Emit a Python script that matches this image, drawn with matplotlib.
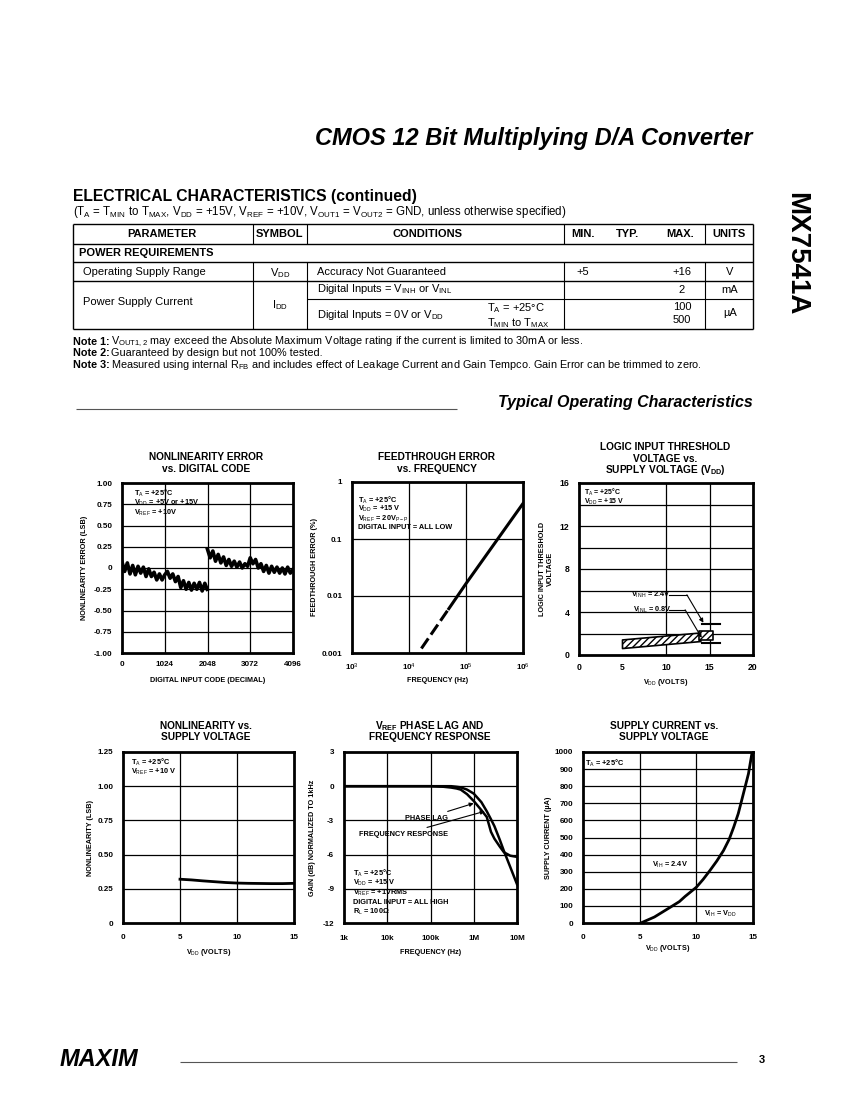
import matplotlib
matplotlib.use('Agg')
import matplotlib.pyplot as plt

W, H = 850, 1100

plt.rcParams['font.family'] = ['Liberation Sans', 'DejaVu Sans']
plt.rcParams['mathtext.fontset'] = 'custom'
plt.rcParams['mathtext.rm'] = 'Liberation Sans'
plt.rcParams['mathtext.it'] = 'Liberation Sans:italic'
plt.rcParams['mathtext.bf'] = 'Liberation Sans:bold'
plt.rcParams['hatch.linewidth'] = 1.0

NARROW = ['Liberation Sans Narrow', 'Liberation Sans', 'DejaVu Sans']

# ---------------- data ----------------
# nonlinearity error vs digital code (two halves)
code_lo = [0, 64, 128, 192, 256, 320, 384, 448, 512, 576, 640, 704, 768, 832, 896, 960,
           1024, 1088, 1152, 1216, 1280, 1344, 1408, 1472, 1536, 1600, 1664, 1728, 1792,
           1856, 1920, 1984, 2040]
nle_lo = [0.07, -0.04, 0.06, -0.07, 0.03, -0.08, 0.02, -0.06, 0.01, -0.10, -0.01, -0.10,
          -0.05, -0.14, -0.07, -0.14, -0.08, -0.04, -0.12, -0.07, -0.16, -0.10, -0.23,
          -0.15, -0.25, -0.17, -0.26, -0.18, -0.25, -0.17, -0.27, -0.18, -0.25]
code_hi = [2048, 2112, 2176, 2240, 2304, 2368, 2432, 2496, 2560, 2624, 2688, 2752, 2816,
           2880, 2944, 3008, 3072, 3136, 3200, 3264, 3328, 3392, 3456, 3520, 3584, 3648,
           3712, 3776, 3840, 3904, 3968, 4032, 4096]
nle_hi = [0.22, 0.12, 0.20, 0.08, 0.16, 0.06, 0.13, 0.03, 0.10, 0.02, 0.08, 0.01, 0.07,
          0.00, 0.05, 0.02, 0.12, 0.05, 0.10, 0.00, 0.05, -0.04, 0.03, -0.06, 0.02, -0.05,
          0.01, -0.06, 0.00, -0.07, 0.01, -0.06, -0.02]

# feedthrough error vs frequency
ft_freq_dash = [1.65e4, 5e4]
ft_err_dash = [0.0012, 0.006]
ft_freq = [5e4, 1e5, 1e6]
ft_err = [0.006, 0.0165, 0.42]

# logic input threshold vs supply voltage
band_vdd = [5, 14]
band_lo = [0.6, 1.25]
band_hi = [1.4, 2.05]
box_vdd = [13.8, 15.4]
box_lo = [1.4, 1.4]
box_hi = [2.2, 2.2]
vinh_vdd = [14.1, 16.2]
vinh_lvl = [2.85, 2.85]
vinl_vdd = [14.1, 16.2]
vinl_lvl = [1.08, 1.08]

# nonlinearity vs supply voltage
nl_vdd = [5, 6, 7, 8, 9, 10, 11, 12, 13, 14, 15]
nl_lsb = [0.32, 0.315, 0.308, 0.302, 0.296, 0.292, 0.290, 0.289, 0.288, 0.288, 0.290]

# VREF phase lag and frequency response
fr_freq = [1e3, 1e4, 1e5, 2e5, 3e5, 4e5, 5e5, 7e5, 1e6, 1.5e6, 2e6, 2.5e6, 3e6, 4e6,
           5e6, 7e6, 1e7]
freq_resp = [0, 0, 0, 0, 0, -0.05, -0.1, -0.3, -0.65, -1.4, -2.2, -2.9, -3.5, -4.7,
             -5.7, -7.1, -8.6]
phase_lag = [0, 0, 0, -0.05, -0.12, -0.2, -0.3, -0.7, -1.3, -2.1, -2.7, -4.0, -4.6,
             -5.3, -5.8, -6.1, -6.2]

# supply current vs supply voltage
sc_vdd = [5.1, 6.3, 7.7, 8.5, 9.0, 10.0, 10.6, 11.2, 11.8, 12.4, 12.9, 13.3, 13.7,
          14.0, 14.3, 14.6, 14.9]
sc_ua = [0, 35, 92, 125, 155, 209, 255, 307, 362, 424, 490, 561, 640, 717, 795, 873, 990]

# table contents
header = ['PARAMETER', 'SYMBOL', 'CONDITIONS', 'MIN.', 'TYP.', 'MAX.', 'UNITS']
header_x = [162, 279, 428, 583, 628, 680, 729]

# ---------------- figure ----------------
fig = plt.figure(figsize=(8.5, 11), dpi=100)
bg = fig.add_axes([0, 0, 1, 1])
bg.set_xlim(0, W)
bg.set_ylim(H, 0)
bg.axis('off')


def txt(x, y, s, **kw):
    kw.setdefault('va', 'center')
    bg.text(x, y, s, **kw)


def hline(x0, x1, y, lw=0.8, color='black'):
    bg.plot([x0, x1], [y, y], color=color, lw=lw, solid_capstyle='butt')


def vline(x, y0, y1, lw=0.8):
    bg.plot([x, x], [y0, y1], color='black', lw=lw, solid_capstyle='butt')


# page title
txt(753, 138, 'CMOS 12 Bit Multiplying D/A Converter', ha='right', fontsize=17,
    weight='bold', style='italic')
txt(796, 254, 'MX7541A', ha='center', fontsize=20, weight='bold', rotation=270)

txt(73, 197, 'ELECTRICAL CHARACTERISTICS (continued)', fontsize=11.3, weight='bold')
txt(73, 212, r'(T$_{\rm A}$ = T$_{\rm MIN}$ to T$_{\rm MAX}$, V$_{\rm DD}$ = +15V, '
    r'V$_{\rm REF}$ = +10V, V$_{\rm OUT1}$ = V$_{\rm OUT2}$ = GND, unless otherwise specified)',
    fontsize=8.3)

# table grid
for y in [224, 244, 262, 281, 329]:
    hline(73, 753, y, lw=1.0)
hline(307, 753, 299)
vline(73, 224, 329, lw=1.0)
vline(753, 224, 329, lw=1.0)
for x in [253, 307, 564, 705]:
    vline(x, 224, 244)
    vline(x, 262, 329)

for s, x in zip(header, header_x):
    txt(x, 234, s, ha='center', fontsize=8, weight='bold')
txt(79, 253, 'POWER REQUIREMENTS', fontsize=8, weight='bold')
txt(83, 272, 'Operating Supply Range', fontsize=8)
txt(83, 302, 'Power Supply Current', fontsize=8)
txt(280, 273, r'V$_{\rm DD}$', ha='center', fontsize=8)
txt(280, 305, r'I$_{\rm DD}$', ha='center', fontsize=8)
txt(317, 272, 'Accuracy Not Guaranteed', fontsize=8)
txt(317, 289, r'Digital Inputs = V$_{\rm INH}$ or V$_{\rm INL}$', fontsize=8)
txt(317, 315, r'Digital Inputs = 0V or V$_{\rm DD}$', fontsize=8)
txt(487, 308, r'T$_{\rm A}$ = +25°C', fontsize=8)
txt(487, 323, r'T$_{\rm MIN}$ to T$_{\rm MAX}$', fontsize=8)
txt(583, 272, '+5', ha='center', fontsize=8)
txt(682, 272, '+16', ha='center', fontsize=8)
txt(730, 272, 'V', ha='center', fontsize=8)
txt(682, 290, '2', ha='center', fontsize=8)
txt(730, 290, 'mA', ha='center', fontsize=8)
txt(682, 307, '100', ha='center', fontsize=8)
txt(682, 320, '500', ha='center', fontsize=8)
txt(730, 313, 'µA', ha='center', fontsize=8)

# notes
notes = [
    r'V$_{\rm OUT1,2}$ may exceed the Absolute Maximum Voltage rating if the current is limited to 30mA or less.',
    'Guaranteed by design but not 100% tested.',
    r'Measured using internal R$_{\rm FB}$ and includes effect of Leakage Current and Gain Tempco. Gain Error can be trimmed to zero.',
]
for i, n in enumerate(notes):
    y = 342 + i * 11.5
    txt(73, y, 'Note %d:' % (i + 1), fontsize=7.8, weight='bold')
    txt(111, y, n, fontsize=7.8)

# section heading
hline(76, 457, 409, lw=0.8, color='#555555')
txt(753, 402, 'Typical Operating Characteristics', ha='right', fontsize=11.5,
    weight='bold', style='italic')

# footer
txt(60, 1060, 'MAXIM', fontsize=17, weight='bold', style='italic')
hline(180, 737, 1062, lw=0.8, color='#555555')
txt(762, 1060, '3', ha='center', fontsize=8, weight='bold')


# ---------------- charts ----------------
def chart(l, t, r, b):
    ax = fig.add_axes([l / W, 1 - b / H, (r - l) / W, (b - t) / H])
    ax.set_facecolor('none')
    for sp in ax.spines.values():
        sp.set_linewidth(2.0)
        sp.set_zorder(5)
    ax.tick_params(length=0)
    ax.box = (l, t, r, b)
    return ax


def ticks(ax, xt, xl, yt, yl, xpad=6, ypad=7, size=5.8):
    ax.set_xticks(xt)
    ax.set_xticklabels(xl, family=NARROW, weight='bold', fontsize=size)
    ax.set_yticks(yt)
    ax.set_yticklabels(yl, family=NARROW, weight='bold', fontsize=size)
    ax.tick_params(axis='x', pad=xpad)
    ax.tick_params(axis='y', pad=ypad)
    ax.minorticks_off()


def grid(ax, xg, yg):
    for v in xg:
        ax.axvline(v, color='black', lw=0.9, zorder=1)
    for v in yg:
        ax.axhline(v, color='black', lw=0.9, zorder=1)


def labels(ax, xlab, xly, ylab, ylx, size=5.2):
    l, t, r, b = ax.box
    ax.set_xlabel(xlab, family=NARROW, weight='bold', fontsize=size, va='center')
    ax.xaxis.set_label_coords(0.5, (b - xly) / (b - t))
    ax.set_ylabel(ylab, family=NARROW, weight='bold', fontsize=size, va='center',
                  ha='center', multialignment='center')
    ax.yaxis.set_label_coords((ylx - l) / (r - l), 0.5)


def title(x, y, lines):
    for i, s in enumerate(lines):
        txt(x, y + i * 11.5, s, ha='center', fontsize=7.3, weight='bold')


def inner(ax, x, y, lines, step=10, size=5.3):
    for i, s in enumerate(lines):
        ax.text(x, y + i * step, s, transform=bg.transData, family=NARROW,
                weight='bold', fontsize=size, va='center')


arrow = dict(arrowstyle='-|>', color='black', lw=0.8, shrinkA=0, shrinkB=0,
             mutation_scale=6)
small = dict(family=NARROW, weight='bold', fontsize=5.3, va='center')

# 1: nonlinearity error vs digital code
ax1 = chart(122, 483, 293, 653)
ax1.set_xlim(0, 4096)
ax1.set_ylim(-1, 1)
grid(ax1, [1024, 2048, 3072], [-0.75, -0.5, -0.25, 0, 0.25, 0.5, 0.75])
ax1.plot(code_lo, nle_lo, color='black', lw=2.6, zorder=3)
ax1.plot(code_hi, nle_hi, color='black', lw=2.6, zorder=3)
ticks(ax1, [0, 1024, 2048, 3072, 4096], ['0', '1024', '2048', '3072', '4096'],
      [1, 0.75, 0.5, 0.25, 0, -0.25, -0.5, -0.75, -1],
      ['1.00', '0.75', '0.50', '0.25', '0', '-0.25', '-0.50', '-0.75', '-1.00'])
labels(ax1, 'DIGITAL INPUT CODE (DECIMAL)', 681, 'NONLINEARITY ERROR (LSB)', 85)
title(206, 457, ['NONLINEARITY ERROR', 'vs. DIGITAL CODE'])
inner(ax1, 134, 493, [r'T$_{\rm A}$ = +25°C', r'V$_{\rm DD}$ = +5V or +15V',
                      r'V$_{\rm REF}$ = +10V'])

# 2: feedthrough error vs frequency
ax2 = chart(352, 482, 523, 653)
ax2.set_xscale('log')
ax2.set_yscale('log')
ax2.set_xlim(1e3, 1e6)
ax2.set_ylim(1e-3, 1)
grid(ax2, [1e4, 1e5], [1e-2, 1e-1])
ax2.plot(ft_freq_dash, ft_err_dash, color='black', lw=2.2, ls=(0, (4, 1.5)), zorder=3)
ax2.plot(ft_freq, ft_err, color='black', lw=2.2, zorder=3)
ticks(ax2, [1e3, 1e4, 1e5, 1e6], [r'10$^3$', r'10$^4$', r'10$^5$', r'10$^6$'],
      [1, 0.1, 0.01, 0.001], ['1', '0.1', '0.01', '0.001'])
labels(ax2, 'FREQUENCY (Hz)', 681, 'FEEDTHROUGH ERROR (%)', 315)
title(437, 457, ['FEEDTHROUGH ERROR', 'vs. FREQUENCY'])
inner(ax2, 358, 500, [r'T$_{\rm A}$ = +25°C', r'V$_{\rm DD}$ = +15 V',
                      r'V$_{\rm REF}$ = 20V$_{\rm P-P}$', 'DIGITAL INPUT = ALL LOW'],
      step=9.3)

# 3: logic input threshold
ax3 = chart(579, 483, 753, 655)
ax3.set_xlim(0, 20)
ax3.set_ylim(0, 16)
grid(ax3, [10, 15], [2, 4, 6, 8, 10, 12, 14])
ax3.fill_between(band_vdd, band_lo, band_hi, facecolor='white', edgecolor='black',
                 hatch='/////', lw=1.2, zorder=3)
ax3.fill_between(box_vdd, box_lo, box_hi, facecolor='white', edgecolor='black',
                 hatch='/////', lw=1.2, zorder=3)
ax3.plot(vinh_vdd, vinh_lvl, color='black', lw=1.5, zorder=3)
ax3.plot(vinl_vdd, vinl_lvl, color='black', lw=1.5, zorder=3)
ticks(ax3, [0, 5, 10, 15, 20], ['0', '5', '10', '15', '20'],
      [0, 4, 8, 12, 16], ['0', '4', '8', '12', '16'], size=6.2)
labels(ax3, r'V$_{\rm DD}$ (VOLTS)', 683, 'LOGIC INPUT THRESHOLD\nVOLTAGE', 546)
title(665, 447, ['LOGIC INPUT THRESHOLD', 'VOLTAGE vs.', r'SUPPLY VOLTAGE (V$_{\mathbf{DD}}$)'])
inner(ax3, 584, 492, [r'T$_{\rm A}$ = +25°C', r'V$_{\rm DD}$ = +15 V'], step=9.5,
      size=5.0)
ax3.text(6.0, 5.6, r'V$_{\rm INH}$ = 2.4V', **small)
ax3.text(6.2, 4.2, r'V$_{\rm INL}$ = 0.8V', **small)
ax3.plot([10.4, 12.4], [5.6, 5.6], color='black', lw=0.8, zorder=3)
ax3.plot([10.3, 12.2], [4.2, 4.2], color='black', lw=0.8, zorder=3)
ax3.annotate('', xy=(14.3, 3.0), xytext=(12.4, 5.6), arrowprops=arrow)
ax3.annotate('', xy=(14.1, 1.6), xytext=(12.2, 4.2), arrowprops=arrow)

# 4: nonlinearity vs supply voltage
ax4 = chart(123, 752, 294, 923)
ax4.set_xlim(0, 15)
ax4.set_ylim(0, 1.25)
grid(ax4, [5, 10], [0.25, 0.5, 0.75, 1.0])
ax4.plot(nl_vdd, nl_lsb, color='black', lw=2.0, zorder=3)
ticks(ax4, [0, 5, 10, 15], ['0', '5', '10', '15'],
      [0, 0.25, 0.5, 0.75, 1.0, 1.25], ['0', '0.25', '0.50', '0.75', '1.00', '1.25'],
      xpad=8)
labels(ax4, r'V$_{\rm DD}$ (VOLTS)', 953, 'NONLINEARITY (LSB)', 90)
title(206, 726, ['NONLINEARITY vs.', 'SUPPLY VOLTAGE'])
inner(ax4, 131, 762, [r'T$_{\rm A}$ = +25°C', r'V$_{\rm REF}$ = +10 V'])

# 5: VREF phase lag and frequency response
ax5 = chart(344, 752, 517, 923)
ax5.set_xscale('log')
ax5.set_xlim(1e3, 1e7)
ax5.set_ylim(-12, 3)
grid(ax5, [1e4, 1e5, 1e6], [0, -3, -6, -9])
ax5.plot(fr_freq, freq_resp, color='black', lw=1.8, zorder=3)
ax5.plot(fr_freq, phase_lag, color='black', lw=1.8, zorder=3)
ticks(ax5, [1e3, 1e4, 1e5, 1e6, 1e7], ['1k', '10k', '100k', '1M', '10M'],
      [3, 0, -3, -6, -9, -12], ['3', '0', '-3', '-6', '-9', '-12'], xpad=9)
labels(ax5, 'FREQUENCY (Hz)', 953, 'GAIN (dB) NORMALIZED TO 1kHz', 312)
title(430, 726, [r'V$_{\mathbf{REF}}$ PHASE LAG AND', 'FREQUENCY RESPONSE'])
inner(ax5, 353, 873, [r'T$_{\rm A}$ = +25°C', r'V$_{\rm DD}$ = +15 V',
                      r'V$_{\rm REF}$ = +1VRMS', 'DIGITAL INPUT = ALL HIGH',
                      r'R$_{\rm L}$ = 100Ω'], step=9.8)
ax5.annotate('PHASE LAG', xy=(1.0e6, -1.5), xytext=(2.5e5, -2.8), ha='right',
             va='center', family=NARROW, weight='bold', fontsize=5.3,
             arrowprops=dict(arrow, shrinkA=1))
ax5.annotate('FREQUENCY RESPONSE', xy=(1.8e6, -2.2), xytext=(2.5e5, -4.2), ha='right',
             va='center', family=NARROW, weight='bold', fontsize=5.3,
             arrowprops=dict(arrow, shrinkA=1))

# 6: supply current vs supply voltage
ax6 = chart(583, 752, 753, 923)
ax6.set_xlim(0, 15)
ax6.set_ylim(0, 1000)
grid(ax6, [5, 10], list(range(100, 1000, 100)))
ax6.plot(sc_vdd, sc_ua, color='black', lw=2.0, zorder=3)
ticks(ax6, [0, 5, 10, 15], ['0', '5', '10', '15'],
      list(range(0, 1001, 100)), [str(v) for v in range(0, 1001, 100)], xpad=8)
labels(ax6, r'V$_{\rm DD}$ (VOLTS)', 949, 'SUPPLY CURRENT (µA)', 548)
title(664, 726, ['SUPPLY CURRENT vs.', 'SUPPLY VOLTAGE'])
inner(ax6, 585, 763, [r'T$_{\rm A}$ = +25°C'])
ax6.text(6.05, 342, r'V$_{\rm IH}$ = 2.4V', **small)
ax6.text(10.7, 53, r'V$_{\rm IH}$ = V$_{\rm DD}$', **small)

fig.savefig('out.png', dpi=100)
